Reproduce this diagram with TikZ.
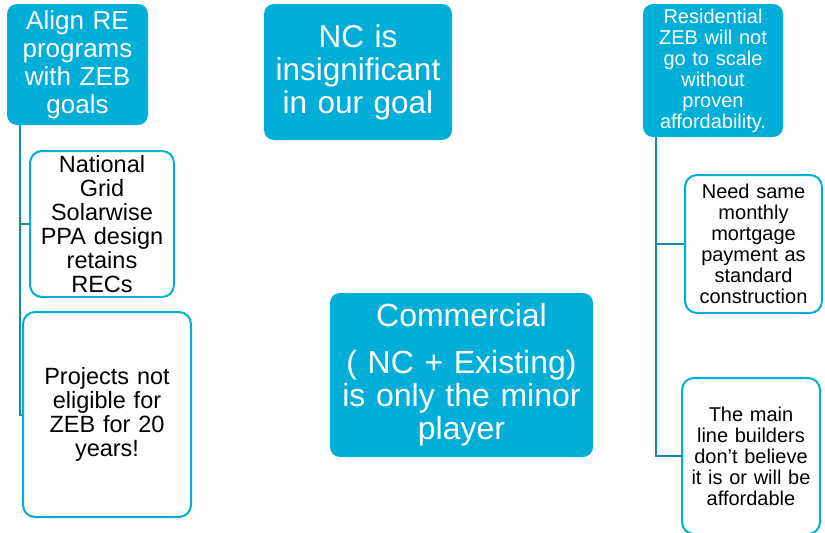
\documentclass[tikz,border=0pt]{standalone}
\usepackage{fontspec}
\setmainfont{Liberation Sans}
\definecolor{boxcyan}{RGB}{0,174,216}
\definecolor{linkteal}{RGB}{14,140,176}
\begin{document}
\begin{tikzpicture}[x=1pt,y=-1pt,
  headbox/.style={fill=boxcyan, draw=none, rounded corners=10pt, text=white,
    align=center, inner sep=0pt},
  leafbox/.style={fill=white, draw=boxcyan, line width=2pt, rounded corners=12pt,
    text=black, align=center, inner sep=0pt},
  conn/.style={draw=linkteal, line width=2pt}]
\useasboundingbox (0,0) rectangle (825,533);

% left column
\node[headbox, minimum width=141pt, minimum height=121pt, text width=139pt,
  font=\fontsize{26}{28}\selectfont] (b1) at (77.5,64.5)
  {Align RE\\programs\\with ZEB\\goals};
\node[leafbox, minimum width=144pt, minimum height=146pt, text width=140pt,
  font=\fontsize{23.5}{24}\selectfont] (b2) at (102,224)
  {National\\Grid\\Solarwise\\PPA design\\retains\\RECs};
\node[leafbox, minimum width=168pt, minimum height=205pt, text width=164pt,
  font=\fontsize{23.5}{24}\selectfont] (b3) at (107,414.5)
  {Projects not\\eligible for\\ZEB for 20\\years!};

% middle column
\node[headbox, minimum width=188pt, minimum height=136pt, text width=186pt,
  font=\fontsize{31.5}{33}\selectfont] (b4) at (358,72)
  {NC is\\insignificant\\in our goal};
\node[headbox, minimum width=263pt, minimum height=164pt, text width=259pt,
  font=\fontsize{32}{33}\selectfont] (b5) at (461.5,375)
  {Commercial\\[14pt]( NC + Existing)\\is only the minor\\player};

% right column
\node[headbox, minimum width=140pt, minimum height=133pt, text width=138pt,
  font=\fontsize{20}{21}\selectfont] (b6) at (713,70.5)
  {Residential\\ZEB will not\\go to scale\\without\\proven\\affordability.};
\node[leafbox, minimum width=137pt, minimum height=138pt, text width=133pt,
  font=\fontsize{20}{21}\selectfont] (b7) at (753.5,244)
  {Need same\\monthly\\mortgage\\payment as\\standard\\construction};
\node[leafbox, minimum width=138pt, minimum height=156pt, text width=134pt,
  font=\fontsize{20}{21}\selectfont] (b8) at (751,456)
  {The main\\line builders\\don’t believe\\it is or will be\\affordable};

% tree connectors
\coordinate (lt) at ([xshift=13pt]b1.south west);
\coordinate (rt) at ([xshift=13pt]b6.south west);
\draw[conn] (lt) |- (b2.west);
\draw[conn] (lt) |- (b3.west);
\draw[conn] (rt) |- (b7.west);
\draw[conn] (rt) |- (b8.west);
\end{tikzpicture}
\end{document}
